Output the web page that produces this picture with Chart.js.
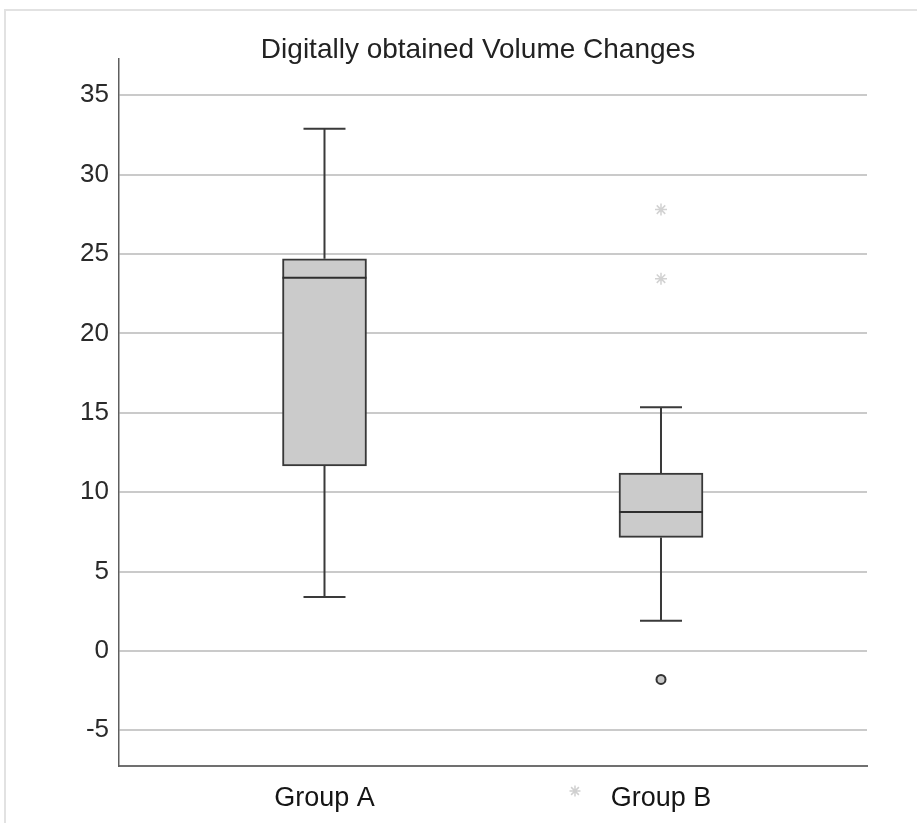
<!DOCTYPE html>
<html>
<head>
<meta charset="utf-8">
<script src="https://cdn.jsdelivr.net/npm/chart.js@4/dist/chart.umd.min.js"></script>
<style>
  html, body { margin: 0; padding: 0; background: #ffffff; }
  #frame { position: absolute; left: 4px; top: 9px; width: 913px; height: 814px;
           border-top: 2px solid #e2e2e2; border-left: 2px solid #e2e2e2; box-sizing: border-box; }
  #c { position: absolute; left: 0; top: 0; }
</style>
</head>
<body>
<div id="frame"></div>
<canvas id="c" width="917" height="823"></canvas>
<script>
// ---- data ----
const groups = ['Group A', 'Group B'];
const xPos = [1, 2];
const whiskerLow = [3.4, 1.9];
const q1 = [11.65, 7.15];
const median = [23.5, 8.75];
const q3 = [24.7, 11.2];
const whiskerHigh = [32.9, 15.35];
const extremesB = [27.8, 23.45];   // "*" marks for Group B
const outliersB = [-1.8];          // "o" mark for Group B
const yTicks = [-5, 0, 5, 10, 15, 20, 25, 30, 35];
const titleText = 'Digitally obtained Volume Changes';

const boxData = xPos.map((x, i) => ({ x: x, y: [q1[i], q3[i]] }));
const extremeData = extremesB.map(v => ({ x: xPos[1], y: v }));
const outlierData = outliersB.map(v => ({ x: xPos[1], y: v }));

const boxPlotPlugin = {
  id: 'boxWhiskers',
  beforeDatasetsDraw(chart) {
    const ctx = chart.ctx, xs = chart.scales.x, ys = chart.scales.y;
    ctx.save();
    ctx.strokeStyle = '#3a3a3a';
    ctx.lineWidth = 2;
    xPos.forEach((xv, i) => {
      const x = xs.getPixelForValue(xv);
      const capHalf = 21;
      ctx.beginPath();
      ctx.moveTo(x, ys.getPixelForValue(q3[i]));
      ctx.lineTo(x, ys.getPixelForValue(whiskerHigh[i]));
      ctx.moveTo(x, ys.getPixelForValue(q1[i]));
      ctx.lineTo(x, ys.getPixelForValue(whiskerLow[i]));
      ctx.moveTo(x - capHalf, ys.getPixelForValue(whiskerHigh[i]));
      ctx.lineTo(x + capHalf, ys.getPixelForValue(whiskerHigh[i]));
      ctx.moveTo(x - capHalf, ys.getPixelForValue(whiskerLow[i]));
      ctx.lineTo(x + capHalf, ys.getPixelForValue(whiskerLow[i]));
      ctx.stroke();
    });
    ctx.restore();
  },
  afterDatasetsDraw(chart) {
    const ctx = chart.ctx, xs = chart.scales.x, ys = chart.scales.y;
    ctx.save();
    ctx.strokeStyle = '#2e2e2e';
    ctx.lineWidth = 2;
    xPos.forEach((xv, i) => {
      const x = xs.getPixelForValue(xv);
      const y = ys.getPixelForValue(median[i]);
      ctx.beginPath();
      ctx.moveTo(x - 42, y);
      ctx.lineTo(x + 42, y);
      ctx.stroke();
    });
    ctx.restore();
  },
  afterDraw(chart) {
    // faint asterisk artifact left of the "Group B" label
    const ctx = chart.ctx, xs = chart.scales.x;
    ctx.save();
    ctx.strokeStyle = '#d0d0d0';
    ctx.lineWidth = 1.5;
    Chart.helpers.drawPoint(ctx, { pointStyle: 'star', radius: 5.5, rotation: 0, borderWidth: 1.5 },
      xs.getPixelForValue(xPos[1]) - 86, xs.top + 25);
    ctx.restore();
  }
};

new Chart(document.getElementById('c'), {
  data: {
    datasets: [
      {
        type: 'bar',
        data: boxData,
        backgroundColor: '#cbcbcb',
        borderColor: '#383838',
        borderWidth: 2,
        borderSkipped: false,
        barThickness: 84
      },
      {
        type: 'scatter',
        data: extremeData,
        pointStyle: 'star',
        pointRadius: 6,
        borderColor: '#d2d2d2',
        borderWidth: 1.5,
        backgroundColor: '#d2d2d2'
      },
      {
        type: 'scatter',
        data: outlierData,
        pointStyle: 'circle',
        pointRadius: 4.5,
        borderColor: '#333333',
        borderWidth: 2,
        backgroundColor: '#c8c8c8'
      }
    ]
  },
  options: {
    responsive: false,
    devicePixelRatio: 1,
    animation: false,
    layout: { padding: { left: 39, right: 0, top: 0, bottom: 0 } },
    plugins: {
      legend: { display: false },
      tooltip: { enabled: false },
      title: {
        display: true,
        text: titleText,
        color: '#222222',
        font: { family: "'Liberation Sans', Arial, sans-serif", size: 28, weight: 'normal', lineHeight: 0.6 },
        padding: { top: 42, bottom: 0 }
      }
    },
    scales: {
      x: {
        type: 'linear',
        offset: false,
        min: 0.3893,
        max: 2.6122,
        afterBuildTicks: (s) => { s.ticks = xPos.map(v => ({ value: v })); },
        afterFit: (s) => { s.height = 57; },
        grid: { display: false, drawTicks: false, offset: false },
        border: { display: true, color: '#707070', width: 2 },
        ticks: {
          padding: 16,
          color: '#151515',
          font: { family: "'Liberation Sans', Arial, sans-serif", size: 27 },
          callback: (v) => groups[xPos.indexOf(v)]
        }
      },
      y: {
        type: 'linear',
        position: 'left',
        min: -7.25,
        max: 37.3,
        afterBuildTicks: (s) => { s.ticks = yTicks.map(v => ({ value: v })); },
        afterFit: (s) => { s.width = 80; },
        grid: { color: '#cacaca', lineWidth: 2, drawTicks: false },
        border: { display: true, color: '#5e5e5e', width: 1.5 },
        ticks: {
          padding: 10,
          color: '#2a2a2a',
          font: { family: "'Liberation Sans Narrow', 'Liberation Sans', Arial, sans-serif", size: 26 },
          callback: (v) => String(v)
        }
      },
      yRight: {
        type: 'linear',
        position: 'right',
        display: true,
        min: -7.25,
        max: 37.3,
        afterFit: (s) => { s.width = 50; },
        grid: { display: false, drawTicks: false },
        border: { display: false },
        ticks: { display: false }
      }
    }
  },
  plugins: [boxPlotPlugin]
});
</script>
</body>
</html>
